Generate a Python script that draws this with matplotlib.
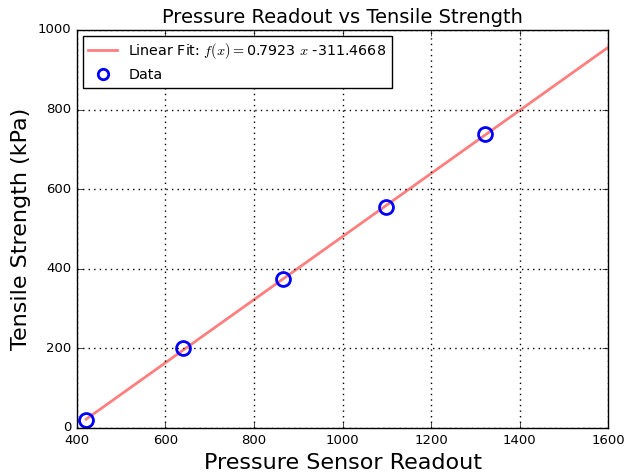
import matplotlib
matplotlib.use("Agg")
import matplotlib.pyplot as plt
import numpy as np

plt.style.use("classic")

sensor_readout = [421, 640, 866, 1098, 1323]
tensile_strength = [20, 200, 374, 556, 739]
fit_slope = 0.7923
fit_intercept = -311.4668
x_limits = [400, 1600]
y_limits = [0, 1000]

fig = plt.figure(figsize=(6.25, 4.75), dpi=100, facecolor="white")
ax = fig.add_axes([0.123, 0.099, 0.850, 0.838])

xfit = np.linspace(min(sensor_readout), x_limits[1], 200)
yfit = fit_slope * xfit + fit_intercept
ax.plot(xfit, yfit, color="#ff7f7f", lw=2,
        label="Linear Fit: $f(x) =$0.7923 $x$ -311.4668")
ax.plot(sensor_readout, tensile_strength, "o", ms=10, mfc="none", mec="blue",
        mew=2, label="Data")

ax.set_xlim(*x_limits)
ax.set_ylim(*y_limits)
ax.grid(True, color="black", linestyle=":", linewidth=1)
ax.tick_params(labelsize=9.5)
ax.set_title("Pressure Readout vs Tensile Strength", fontsize=14)
ax.set_xlabel("Pressure Sensor Readout", fontsize=16)
ax.set_ylabel("Tensile Strength (kPa)", fontsize=16)
ax.legend(loc="upper left", fontsize=10.3, numpoints=1, handlelength=2.0,
          markerscale=0.75, borderaxespad=0.4, labelspacing=0.45)

fig.savefig("out.png", dpi=100, facecolor="white")
